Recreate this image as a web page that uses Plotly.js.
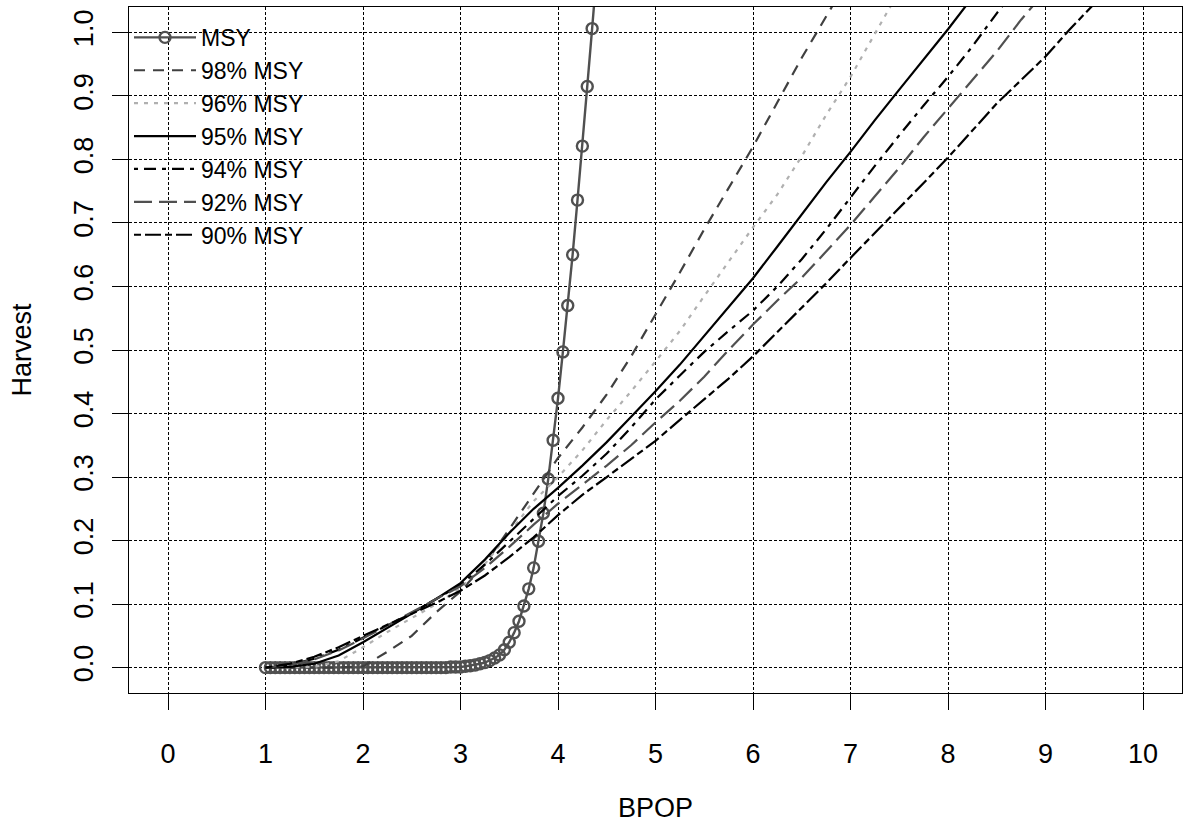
<!DOCTYPE html>
<html>
<head>
<meta charset="utf-8">
<script src="https://cdn.plot.ly/plotly-3.0.1.min.js"></script>
<style>html,body{margin:0;padding:0;background:#ffffff;}</style>
</head>
<body>
<div id="chart" style="width:1188px;height:828px;"></div>
<script>
// MSY curve (x step 0.05)
const msyX = [1.00,1.05,1.10,1.15,1.20,1.25,1.30,1.35,1.40,1.45,1.50,1.55,1.60,1.65,1.70,1.75,1.80,1.85,1.90,1.95,
  2.00,2.05,2.10,2.15,2.20,2.25,2.30,2.35,2.40,2.45,2.50,2.55,2.60,2.65,2.70,2.75,2.80,2.85,2.90,2.95,
  3.00,3.05,3.10,3.15,3.20,3.25,3.30,3.35,3.40,3.45,3.50,3.55,3.60,3.65,3.70,3.75,3.80,3.85,3.90,3.95,
  4.00,4.05,4.10,4.15,4.20,4.25,4.30,4.35,4.40];
const msyY = [0,0,0,0,0,0,0,0,0,0,0,0,0,0,0,0,0,0,0,0,
  0,0,0,0,0,0,0,0,0,0,0,0,0,0,0,0,0,0.000,0.001,0.001,
  0.001,0.002,0.003,0.004,0.006,0.008,0.011,0.015,0.020,0.028,0.040,0.055,0.073,0.097,0.124,0.157,0.199,0.243,0.297,0.358,
  0.424,0.497,0.570,0.650,0.736,0.821,0.915,1.006,1.100];

// Other harvest rules (x step 0.25)
const bpop = [1.0,1.25,1.5,1.75,2.0,2.25,2.5,2.75,3.0,3.25,3.5,3.75,4.0,4.25,4.5,4.75,5.0,5.25,5.5,5.75,
  6.0,6.25,6.5,6.75,7.0,7.25,7.5,7.75,8.0,8.25,8.5,8.75,9.0,9.25,9.5];
const h98 = [0,0,0,0,0.002,0.025,0.05,0.087,0.12,0.163,0.218,0.275,0.33,0.378,0.43,0.49,0.555,0.622,0.69,0.755,
  0.82,0.89,0.96,1.025,1.09];
const h96 = [0,0,0.001,0.01,0.032,0.056,0.078,0.1,0.125,0.163,0.212,0.262,0.3,0.342,0.39,0.435,0.482,0.53,0.585,0.64,
  0.693,0.745,0.805,0.87,0.93,0.998,1.065];
const h95 = [0,0.001,0.006,0.019,0.04,0.062,0.085,0.108,0.133,0.17,0.212,0.25,0.283,0.318,0.355,0.395,0.435,0.477,0.522,0.567,
  0.613,0.663,0.714,0.764,0.812,0.862,0.91,0.957,1.005,1.055];
const h94 = [0,0.004,0.014,0.028,0.047,0.066,0.086,0.108,0.13,0.162,0.198,0.235,0.27,0.302,0.337,0.378,0.422,0.46,0.497,0.53,
  0.562,0.6,0.643,0.69,0.74,0.79,0.838,0.885,0.93,0.978,1.03,1.08];
const h92 = [0,0.004,0.013,0.027,0.046,0.066,0.087,0.108,0.128,0.157,0.19,0.225,0.258,0.288,0.318,0.35,0.386,0.42,0.458,0.5,
  0.54,0.578,0.614,0.655,0.697,0.742,0.787,0.835,0.88,0.925,0.97,1.02,1.065];
const h90 = [0,0.006,0.017,0.032,0.05,0.067,0.084,0.102,0.121,0.145,0.174,0.205,0.24,0.272,0.3,0.328,0.357,0.39,0.422,0.455,
  0.49,0.528,0.566,0.605,0.645,0.684,0.724,0.763,0.803,0.846,0.888,0.925,0.962,1.005,1.045];

const seriesNames = ['MSY','98% MSY','96% MSY','95% MSY','94% MSY','92% MSY','90% MSY'];
const xTickVals = [0,1,2,3,4,5,6,7,8,9,10];
const yTickVals = [0,0.1,0.2,0.3,0.4,0.5,0.6,0.7,0.8,0.9,1.0];
const yTickText = ['0.0','0.1','0.2','0.3','0.4','0.5','0.6','0.7','0.8','0.9','1.0'];

const FONT = 'Liberation Sans, Arial, Helvetica, sans-serif';

function lineTrace(ys, name, color, dash) {
  return {
    x: bpop.slice(0, ys.length), y: ys, name: name, type: 'scatter', mode: 'lines',
    line: {color: color, width: 2.2, dash: dash}
  };
}

const traces = [
  {x: msyX, y: msyY, name: seriesNames[0], type: 'scatter', mode: 'lines+markers',
   line: {color: '#505050', width: 2.4},
   marker: {symbol: 'circle-open', size: 11, color: '#505050', line: {color: '#505050', width: 2.4}}},
  lineTrace(h98, seriesNames[1], '#404040', '11px,8px'),
  lineTrace(h96, seriesNames[2], '#b0b0b0', '4px,6px'),
  lineTrace(h95, seriesNames[3], '#000000', 'solid'),
  lineTrace(h94, seriesNames[4], '#000000', '4px,6px,12px,6px'),
  lineTrace(h92, seriesNames[5], '#505050', '18px,7px'),
  lineTrace(h90, seriesNames[6], '#000000', '7px,4px,16px,4px')
];

const layout = {
  width: 1188, height: 828,
  margin: {l: 129, r: 6, t: 7, b: 135},
  paper_bgcolor: '#ffffff', plot_bgcolor: '#ffffff',
  font: {family: FONT, size: 27, color: '#000000'},
  showlegend: true,
  legend: {
    x: 0, y: 0.987, xanchor: 'left', yanchor: 'top',
    bgcolor: 'rgba(0,0,0,0)', borderwidth: 0,
    font: {family: FONT, size: 23, color: '#000000'},
    itemwidth: 62, tracegroupgap: 0, traceorder: 'normal'
  },
  xaxis: {
    range: [-0.4, 10.4], tickmode: 'array', tickvals: xTickVals,
    ticks: 'outside', ticklen: 16, tickwidth: 1, tickcolor: '#000000',
    ticklabelstandoff: 21,
    showline: true, mirror: true, linecolor: '#000000', linewidth: 1,
    showgrid: true, gridcolor: '#000000', gridwidth: 1, griddash: '3px,2px',
    zeroline: false,
    tickfont: {family: FONT, size: 27, color: '#000000'},
    title: {text: 'BPOP', font: {family: FONT, size: 27, color: '#000000'}, standoff: 29}
  },
  yaxis: {
    range: [-0.04, 1.04], tickmode: 'array', tickvals: yTickVals, ticktext: yTickText,
    tickangle: -90,
    ticks: 'outside', ticklen: 16, tickwidth: 1, tickcolor: '#000000',
    ticklabelstandoff: 8,
    showline: true, mirror: true, linecolor: '#000000', linewidth: 1,
    showgrid: true, gridcolor: '#000000', gridwidth: 1, griddash: '3px,2px',
    zeroline: false,
    tickfont: {family: FONT, size: 27, color: '#000000'},
    title: {text: 'Harvest', font: {family: FONT, size: 27, color: '#000000'}, standoff: 29}
  }
};

Plotly.newPlot('chart', traces, layout, {displayModeBar: false, staticPlot: true});
</script>
</body>
</html>
